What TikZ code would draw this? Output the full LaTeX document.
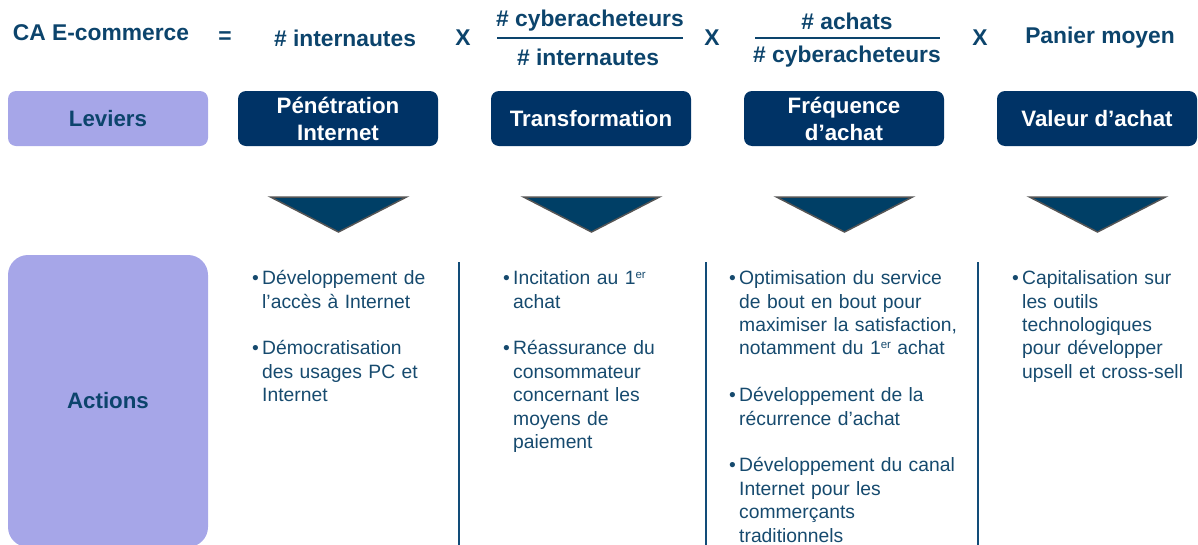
\documentclass[tikz,border=0pt]{standalone}
\usepackage{fontspec}
\setmainfont{Liberation Sans}
\definecolor{inkblue}{RGB}{12,68,108}
\definecolor{bodyblue}{RGB}{22,74,110}
\definecolor{navy}{RGB}{0,51,102}
\definecolor{lilac}{RGB}{166,166,232}
\definecolor{trifill}{RGB}{0,63,102}
\definecolor{tririm}{RGB}{85,85,85}
\definecolor{rule}{RGB}{18,76,120}
% bullet item with a hanging indent; lines inside are broken with \newline
\newcommand\bitem[1]{\par\noindent\hangindent=10pt\hangafter=1\makebox[10pt][l]{\textbullet}#1\par}
\newcommand\itemgap{\vspace{23.4pt}}
\newcommand\ordsup[1]{\raisebox{6.5pt}{\fontsize{11.5}{12}\selectfont #1}}
\begin{document}
\begin{tikzpicture}[x=1pt,y=-1pt,
  hdr/.style={inner sep=0pt, text=inkblue, font=\fontsize{22.8}{26}\selectfont\bfseries},
  fracbar/.style={draw=inkblue, line width=2pt},
  lever/.style={fill=navy, rounded corners=8pt, minimum width=200pt, minimum height=55pt,
    inner sep=0pt, text=white, align=center, font=\fontsize{22.3}{27}\selectfont\bfseries},
  sidebox/.style={fill=lilac, minimum width=200pt, inner sep=0pt, text=inkblue,
    font=\fontsize{22.3}{26}\selectfont\bfseries},
  tri/.style={fill=trifill, draw=tririm, line width=1.5pt, line join=miter},
  sep/.style={draw=rule, line width=2pt},
  actions/.style={anchor=north west, inner sep=0pt, text width=230pt, text=bodyblue,
    font=\fontsize{19.3}{23.4}\selectfont}
]
\useasboundingbox (0,0) rectangle (1198,544);
\clip (0,0) rectangle (1198,544);

% formula line
\node[hdr] (ca)  at (101,33)  {CA E-commerce};
\node[hdr] (eq)  at (225,38)  {=};
\node[hdr] (int) at (345,38)  {\# internautes};
\node[hdr] (x1)  at (463,38)  {X};
\node[hdr] (n1)  at (590,21)  {\# cyberacheteurs};
\node[hdr] (d1)  at (588,57)  {\# internautes};
\node[hdr] (x2)  at (712,38)  {X};
\node[hdr] (n2)  at (847,21)  {\# achats};
\node[hdr] (d2)  at (847,57)  {\# cyberacheteurs};
\node[hdr] (x3)  at (980,38)  {X};
\node[hdr] (pm)  at (1100,38) {Panier moyen};
\coordinate (b1l) at (497,38); \coordinate (b1r) at (683,38);
\coordinate (b2l) at (755,38); \coordinate (b2r) at (940,38);
\draw[fracbar] (b1l) -- (b1r);
\draw[fracbar] (b2l) -- (b2r);

% levers row
\node[sidebox, rounded corners=8pt, minimum height=55pt] (lev) at (108,118.5) {Leviers};
\node[lever] (l1) at (338,118.5)  {Pénétration\\Internet};
\node[lever] (l2) at (591,118.5)  {Transformation};
\node[lever] (l3) at (844,118.5)  {Fréquence\\d’achat};
\node[lever] (l4) at (1097,118.5) {Valeur d’achat};

% downward triangles
\foreach \cx in {338.5,591.5,844.5,1097.5}{
  \draw[tri] (\cx-68,197) -- (\cx+68,197) -- (\cx,232) -- cycle;
}

% actions row
\node[sidebox, rounded corners=20pt, minimum height=292pt] (act) at (108,401) {Actions};

\draw[sep] (458.5,262) -- (458.5,560);
\draw[sep] (705.5,262) -- (705.5,560);
\draw[sep] (977.5,262) -- (977.5,560);

\node[actions] (c1) at (252,261) {%
  \bitem{Développement de\newline l’accès à Internet}\itemgap
  \bitem{Démocratisation\newline des usages PC et\newline Internet}};
\node[actions] (c2) at (503,261) {%
  \bitem{Incitation au 1\ordsup{er}\newline achat}\itemgap
  \bitem{Réassurance du\newline consommateur\newline concernant les\newline moyens de\newline paiement}};
\node[actions] (c3) at (729,261) {%
  \bitem{Optimisation du service\newline de bout en bout pour\newline maximiser la satisfaction,\newline notamment du 1\ordsup{er} achat}\itemgap
  \bitem{Développement de la\newline récurrence d’achat}\itemgap
  \bitem{Développement du canal\newline Internet pour les\newline commerçants\newline traditionnels}};
\node[actions] (c4) at (1012,261) {%
  \bitem{Capitalisation sur\newline les outils\newline technologiques\newline pour développer\newline upsell et cross-sell}};
\end{tikzpicture}
\end{document}
